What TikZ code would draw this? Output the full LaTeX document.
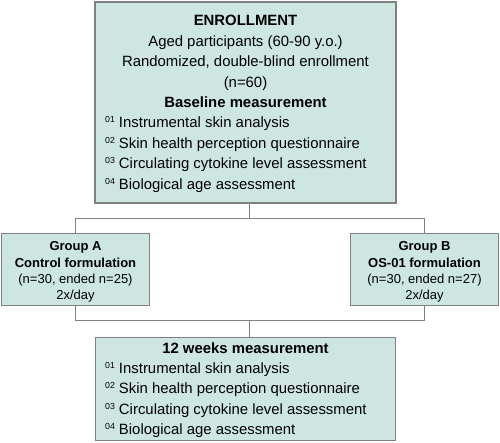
\documentclass[tikz,border=0pt]{standalone}
\usepackage{fontspec}
\setmainfont{Liberation Sans}
\definecolor{boxfill}{RGB}{205,230,226}
\definecolor{boxline}{RGB}{128,128,128}
\newcommand{\numsup}[1]{{\fontsize{8.8}{9}\selectfont\raisebox{5pt}{#1}}\hspace{4pt}}
\begin{document}
\begin{tikzpicture}[x=1pt,y=-1pt,
  box/.style={draw=boxline,fill=boxfill,line width=1.2pt,inner sep=0pt},
  conn/.style={draw=boxline,line width=1pt},
  big/.style={font=\fontsize{14.9}{17}\selectfont,anchor=base,inner sep=0pt},
  small/.style={font=\fontsize{13}{15}\selectfont,anchor=base,inner sep=0pt}]
\useasboundingbox (0,0) rectangle (500,442);
% boxes
\node[box,minimum width=301pt,minimum height=201pt] (top) at (245.5,102.5) {};
\node[box,minimum width=147.5pt,minimum height=72.5pt] (ga) at (75.5,269.5) {};
\node[box,minimum width=148pt,minimum height=72.5pt] (gb) at (424.5,269.5) {};
\node[box,minimum width=300pt,minimum height=103pt] (bot) at (245.5,388.8) {};
% connectors
\coordinate (j1) at (249,218.3);
\coordinate (j2) at (249,320.7);
\draw[conn] (top.south -| j1) -- (j1);
\draw[conn] (ga.north) |- (j1) -| (gb.north);
\draw[conn] (ga.south) |- (j2) -| (gb.south);
\draw[conn] (j2) -- (bot.north -| j2);
% top text
\node[big,font=\fontsize{14.9}{17}\selectfont\bfseries] (t1) at (245.5,25) {ENROLLMENT};
\node[big] (t2) at (245.5,46) {Aged participants (60-90 y.o.)};
\node[big] (t3) at (245.5,66.5) {Randomized, double-blind enrollment};
\node[big] (t4) at (245.5,87) {(n=60)};
\node[big,font=\fontsize{14.9}{17}\selectfont\bfseries] (t5) at (245.5,107.5) {Baseline measurement};
\node[big,anchor=base west] (t6) at (105,127.5) {\numsup{01}Instrumental skin analysis};
\node[big,anchor=base west] (t7) at (105,148) {\numsup{02}Skin health perception questionnaire};
\node[big,anchor=base west] (t8) at (105,168.5) {\numsup{03}Circulating cytokine level assessment};
\node[big,anchor=base west] (t9) at (105,189) {\numsup{04}Biological age assessment};
% group A
\node[small,font=\fontsize{13}{15}\selectfont\bfseries] (a1) at (75.5,250.3) {Group A};
\node[small,font=\fontsize{13}{15}\selectfont\bfseries] (a2) at (75.5,267) {Control formulation};
\node[small] (a3) at (75.5,283.3) {(n=30, ended n=25)};
\node[small] (a4) at (75.5,299.6) {2x/day};
% group B
\node[small,font=\fontsize{13}{15}\selectfont\bfseries] (b1) at (424.5,250.3) {Group B};
\node[small,font=\fontsize{13}{15}\selectfont\bfseries] (b2) at (424.5,267) {OS-01 formulation};
\node[small] (b3) at (424.5,283.3) {(n=30, ended n=27)};
\node[small] (b4) at (424.5,299.6) {2x/day};
% bottom text
\node[big,font=\fontsize{14.9}{17}\selectfont\bfseries] (c1) at (245.5,353) {12 weeks measurement};
\node[big,anchor=base west] (c2) at (105,373.3) {\numsup{01}Instrumental skin analysis};
\node[big,anchor=base west] (c3) at (105,393.8) {\numsup{02}Skin health perception questionnaire};
\node[big,anchor=base west] (c4) at (105,414.3) {\numsup{03}Circulating cytokine level assessment};
\node[big,anchor=base west] (c5) at (105,434.8) {\numsup{04}Biological age assessment};
\end{tikzpicture}
\end{document}
